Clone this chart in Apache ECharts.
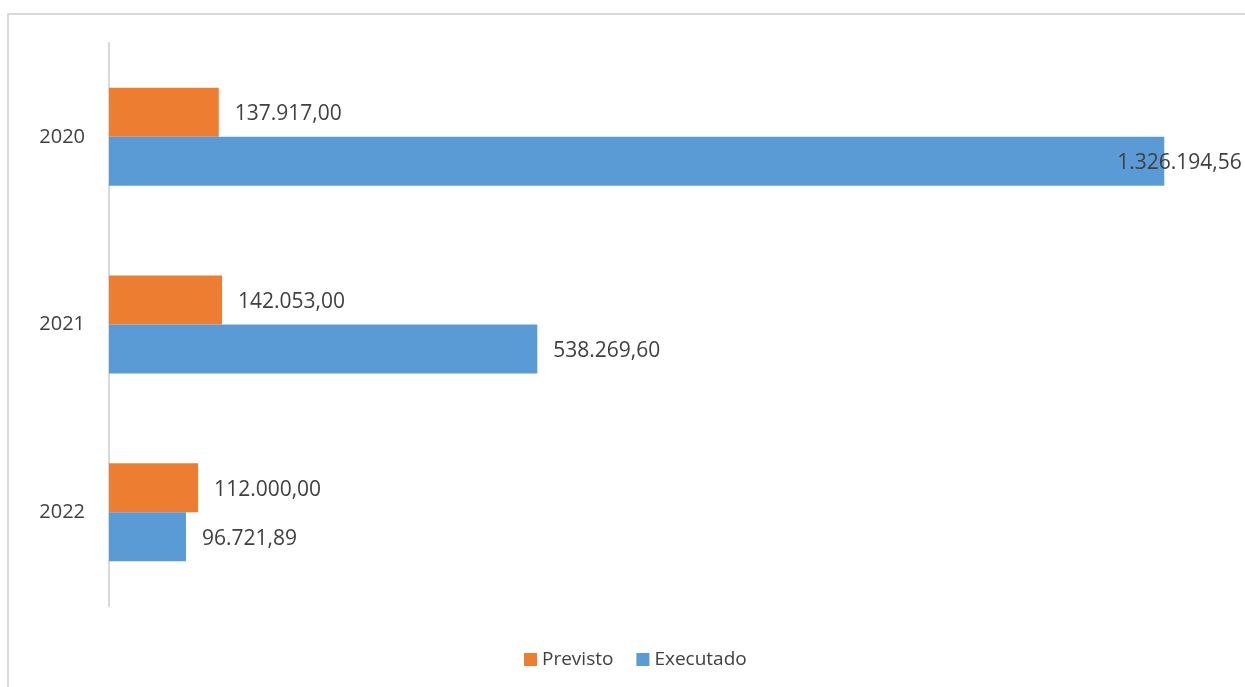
<!DOCTYPE html>
<html>
<head>
<meta charset="utf-8">
<script src="https://cdn.jsdelivr.net/npm/echarts@6/dist/echarts.min.js"></script>
<style>html,body{margin:0;padding:0;background:#fff;}#c{width:1245px;height:687px;}</style>
</head>
<body>
<div id="c"></div>
<script>
const years = ['2020', '2021', '2022'];
const previsto = [137917.00, 142053.00, 112000.00];
const executado = [1326194.56, 538269.60, 96721.89];
const seriesNames = ['Previsto', 'Executado'];

function fmtBR(v) {
  const parts = v.toFixed(2).split('.');
  parts[0] = parts[0].replace(/\B(?=(\d{3})+(?!\d))/g, '.');
  return parts[0] + ',' + parts[1];
}

const FONT = 'Open Sans';
const TXT = '#404040';
const labelBase = {
  show: true, position: 'right', distance: 16, offset: [0, 2],
  fontFamily: FONT, fontSize: 21, color: TXT,
  formatter: p => fmtBR(p.value)
};

// Largest value label sits over bar end (as in reference)
const maxExec = Math.max(...executado);
const execData = executado.map(v => v === maxExec
  ? { value: v, label: { position: 'right', distance: -47 } }
  : v);

const chart = echarts.init(document.getElementById('c'), null, { renderer: 'canvas' });
chart.setOption({
  animation: false,
  backgroundColor: '#fff',
  graphic: [{
    type: 'rect', silent: true, z: -1,
    shape: { x: 8, y: 14, width: 1270, height: 700 },
    style: { fill: 'none', stroke: '#d9d9d9', lineWidth: 2 }
  }],
  grid: { left: 109, top: 43, width: 1114, height: 563, containLabel: false },
  legend: {
    left: 524, top: 650, padding: 0, itemWidth: 13, itemHeight: 13, itemGap: 23,
    icon: 'rect',
    textStyle: { fontFamily: FONT, fontSize: 19, color: TXT },
    data: seriesNames
  },
  xAxis: { type: 'value', min: 0, max: 1400000, show: false, splitLine: { show: false } },
  yAxis: {
    type: 'category', data: years, inverse: true,
    axisLine: { show: true, lineStyle: { color: '#d9d9d9', width: 2 } },
    axisTick: { show: false },
    axisLabel: { fontFamily: FONT, fontSize: 20, color: TXT, margin: 24 },
    splitLine: { show: false }
  },
  series: [
    { name: seriesNames[0], type: 'bar', data: previsto, barWidth: 49, barGap: '0%',
      itemStyle: { color: '#ED7D31' }, label: labelBase },
    { name: seriesNames[1], type: 'bar', data: execData, barWidth: 49, barGap: '0%',
      itemStyle: { color: '#5B9BD5' }, label: labelBase }
  ]
});
</script>
</body>
</html>
